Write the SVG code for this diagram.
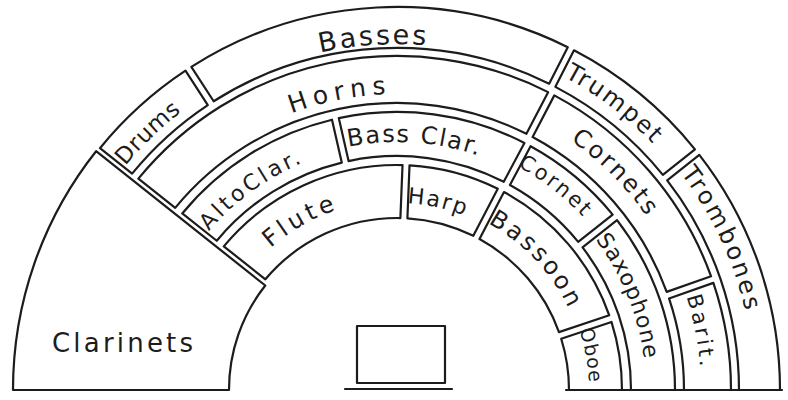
<svg xmlns="http://www.w3.org/2000/svg" xmlns:xlink="http://www.w3.org/1999/xlink" width="788" height="400" viewBox="0 0 788 400">
<style>
.b{fill:none;stroke:#1c1c1c;stroke-width:2.2;stroke-linejoin:round;stroke-linecap:round}
.t{font-family:"DejaVu Sans","Liberation Sans",sans-serif;fill:#1c1c1c;text-anchor:middle}
</style>
<defs>
<path id="r346" d="M51,390 A346,346 0 0 1 743,390 A346,346 0 0 1 51,390"/>
<path id="r296" d="M101,390 A296,296 0 0 1 693,390 A296,296 0 0 1 101,390"/>
<path id="r352" d="M45,390 A352,352 0 0 1 749,390 A352,352 0 0 1 45,390"/>
<path id="r355" d="M42,390 A355,355 0 0 1 752,390 A355,355 0 0 1 42,390"/>
<path id="r357" d="M40,390 A357,357 0 0 1 754,390 A357,357 0 0 1 40,390"/>
<path id="r304" d="M93,390 A304,304 0 0 1 701,390 A304,304 0 0 1 93,390"/>
<path id="r246" d="M151,390 A246,246 0 0 1 643,390 A246,246 0 0 1 151,390"/>
<path id="r248" d="M149,390 A248,248 0 0 1 645,390 A248,248 0 0 1 149,390"/>
<path id="r254" d="M143,390 A254,254 0 0 1 651,390 A254,254 0 0 1 143,390"/>
<path id="r249" d="M148,390 A249,249 0 0 1 646,390 A249,249 0 0 1 148,390"/>
<path id="r190" d="M207,390 A190,190 0 0 1 587,390 A190,190 0 0 1 207,390"/>
<path id="r187" d="M210,390 A187,187 0 0 1 584,390 A187,187 0 0 1 210,390"/>
<path id="r192" d="M205,390 A192,192 0 0 1 589,390 A192,192 0 0 1 205,390"/>
</defs>
<rect width="788" height="400" fill="#fff"/>

<g id="clarinets">
<path class="b" d="M13,390 A384,384 0 0 1 96.1,151.2 L265.3,285.5 A168,168 0 0 0 229,390 Z"/>
<text class="t" x="52" y="352" font-size="26" letter-spacing="3.2" style="text-anchor:start">Clarinets</text>
</g>

<g id="drums">
<path class="b" d="M99.98,148.2 A383,383 0 0 1 185.47,70.7 L207.81,105.09 A342,342 0 0 0 132.11,173.67 Z"/>
<text class="t" font-size="23" letter-spacing="0.5"><textPath href="#r352" xlink:href="#r352" startOffset="282">Drums</textPath></text>
</g>
<g id="basses">
<path class="b" d="M191.34,66.88 A383,383 0 0 1 567.76,47.15 L549.15,83.69 A342,342 0 0 0 213.67,101.27 Z"/>
<text class="t" font-size="27" letter-spacing="2.5"><textPath href="#r346" xlink:href="#r346" startOffset="520">Basses</textPath></text>
</g>
<g id="trumpet">
<path class="b" d="M574,50.34 A383,383 0 0 1 694.97,149.37 L662.84,174.84 A342,342 0 0 0 555.38,86.87 Z"/>
<text class="t" font-size="24" letter-spacing="2"><textPath href="#r355" xlink:href="#r355" startOffset="788">Trumpet</textPath></text>
</g>
<g id="trombones">
<path class="b" d="M699.32,154.86 A383,383 0 0 1 780,390 L739,390 A342,342 0 0 0 667.18,180.32 Z"/>
<text class="t" font-size="24" letter-spacing="2.7"><textPath href="#r357" xlink:href="#r357" startOffset="966">Trombones</textPath></text>
</g>

<g id="horns">
<path class="b" d="M138.38,178.64 A334,334 0 0 1 548.11,92.14 L526.41,133.83 A287,287 0 0 0 175.21,207.84 Z"/>
<text class="t" font-size="25" letter-spacing="6"><textPath href="#r296" xlink:href="#r296" startOffset="408">Horns</textPath></text>
</g>
<g id="cornets">
<path class="b" d="M554.32,95.37 A334,334 0 0 1 711.06,276.31 L666.69,291.84 A287,287 0 0 0 532.62,137.06 Z"/>
<text class="t" font-size="24" letter-spacing="2.5"><textPath href="#r304" xlink:href="#r304" startOffset="717">Cornets</textPath></text>
</g>
<g id="barit">
<path class="b" d="M713.37,282.91 A334,334 0 0 1 731,390 L684,390 A287,287 0 0 0 669.02,298.45 Z"/>
<text class="t" font-size="21" letter-spacing="3"><textPath href="#r304" xlink:href="#r304" startOffset="897">Barit.</textPath></text>
</g>

<g id="alto-clar">
<path class="b" d="M182.26,213.43 A278,278 0 0 1 332,119.7 L341.75,162.61 A234,234 0 0 0 216.75,240.76 Z"/>
<text class="t" font-size="22" letter-spacing="3"><textPath href="#r246" xlink:href="#r246" startOffset="232">AltoClar.</textPath></text>
</g>
<g id="bass-clar">
<path class="b" d="M338.83,118.15 A278,278 0 0 1 524.42,142.91 L503.75,181.77 A234,234 0 0 0 348.58,161.06 Z"/>
<text class="t" font-size="24" letter-spacing="1.6"><textPath href="#r248" xlink:href="#r248" startOffset="407">Bass Clar.</textPath></text>
</g>
<g id="cornet">
<path class="b" d="M530.59,146.2 A278,278 0 0 1 612.68,214.59 L578.19,241.92 A234,234 0 0 0 509.94,185.06 Z"/>
<text class="t" font-size="21" letter-spacing="2.5"><textPath href="#r254" xlink:href="#r254" startOffset="567">Cornet</textPath></text>
</g>
<g id="saxophone">
<path class="b" d="M617.03,220.07 A278,278 0 0 1 675,390 L631,390 A234,234 0 0 0 582.54,247.41 Z"/>
<text class="t" font-size="22" letter-spacing="1"><textPath href="#r249" xlink:href="#r249" startOffset="686">Saxophone</textPath></text>
</g>

<g id="flute">
<path class="b" d="M223.8,246.35 A225,225 0 0 1 402.53,165.07 L400.4,218.03 A172,172 0 0 0 265.37,279.29 Z"/>
<text class="t" font-size="24" letter-spacing="4"><textPath href="#r190" xlink:href="#r190" startOffset="200">Flute</textPath></text>
</g>
<g id="harp">
<path class="b" d="M409.52,165.35 A225,225 0 0 1 497.78,188.83 L473.3,235.84 A172,172 0 0 0 407.4,218.31 Z"/>
<text class="t" font-size="22" letter-spacing="1.8"><textPath href="#r187" xlink:href="#r187" startOffset="334">Harp</textPath></text>
</g>
<g id="bassoon">
<path class="b" d="M503.99,192.05 A225,225 0 0 1 609.24,315.3 L558.98,332.11 A172,172 0 0 0 479.51,239.08 Z"/>
<text class="t" font-size="24" letter-spacing="3"><textPath href="#r190" xlink:href="#r190" startOffset="454">Bassoon</textPath></text>
</g>
<g id="oboe">
<path class="b" d="M611.46,321.93 A225,225 0 0 1 622,390 L569,390 A172,172 0 0 0 561.2,338.75 Z"/>
<text class="t" font-size="19" letter-spacing="1"><textPath href="#r192" xlink:href="#r192" startOffset="569">Oboe</textPath></text>
</g>

<g id="podium">
<rect class="b" x="357" y="326" width="88" height="57"/>
<line class="b" x1="345" y1="389" x2="452" y2="389"/>
</g>

<g id="connectors">
<line class="b" x1="566" y1="390" x2="782" y2="390"/>
</g>
</svg>
